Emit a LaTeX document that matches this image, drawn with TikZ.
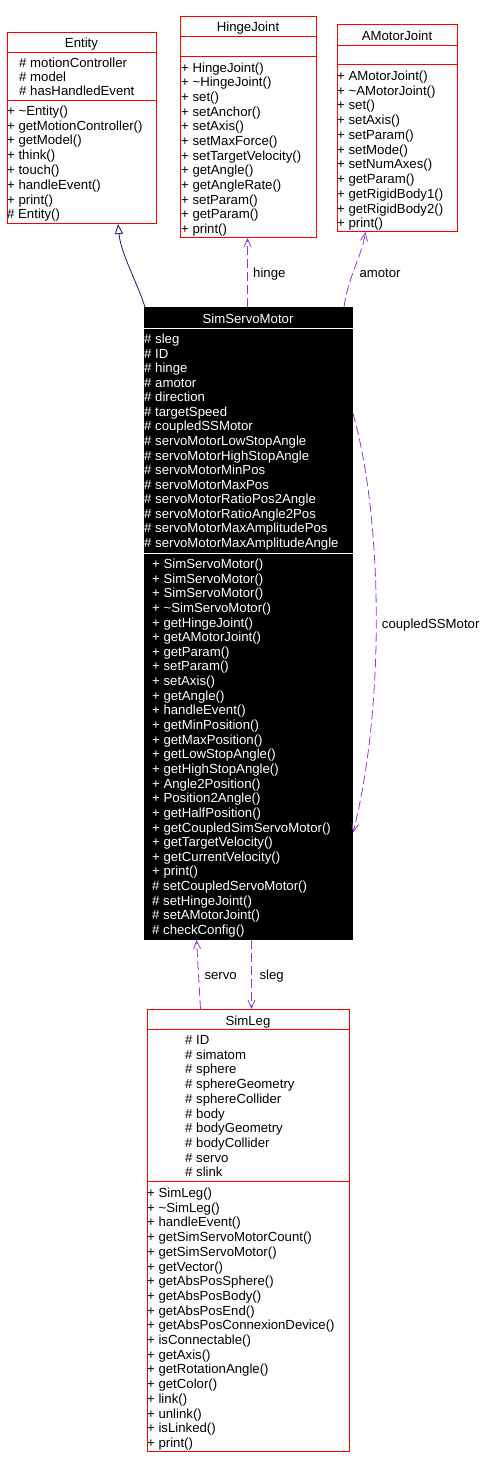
\documentclass[tikz,border=0pt]{standalone}
\usepackage{fontspec}
\setmainfont{Liberation Sans}
\usetikzlibrary{arrows.meta}
\definecolor{boxred}{HTML}{FF0000}
\definecolor{usecol}{HTML}{9A32CD}
\definecolor{inhcol}{HTML}{191970}
\begin{document}
\begin{tikzpicture}[x=1pt,y=-1pt,
  txt/.style={inner sep=0pt, anchor=base west, font=\fontsize{13.2}{15}\selectfont},
  ttl/.style={inner sep=0pt, anchor=base, font=\fontsize{13.2}{15}\selectfont},
  cls/.style={draw=boxred, line width=1pt, fill=white, anchor=north west, inner sep=0pt},
  sep/.style={draw=boxred, line width=1pt},
  usage/.style={draw=usecol, line width=0.8pt, dash pattern=on 9pt off 4pt, -{Straight Barb[length=8pt,width=7pt,line width=0.8pt]}},
  inherit/.style={draw=inhcol, line width=0.8pt, -{Triangle[open,length=10pt,width=8pt,line width=0.8pt]}},
  lbl/.style={inner sep=0pt, anchor=base west, font=\fontsize{13.2}{15}\selectfont}
]
\fill[white] (0,0) rectangle (489,1468);
\useasboundingbox (0,0) rectangle (489,1468);

% ---------- Entity ----------
\node[cls, minimum width=149pt, minimum height=191pt] (entity) at (7,32) {};
\draw[sep] (entity.west |- 0,52) -- (entity.east |- 0,52);
\draw[sep] (entity.west |- 0,100) -- (entity.east |- 0,100);
\node[ttl] (entity-t) at (81.5,47.2) {Entity};
\foreach \t [count=\i from 0] in {\# motionController,\# model,\# hasHandledEvent}
  \node[txt] (entity-a\i) at (19,{67.2+\i*14.3}) {\t};
\foreach \t [count=\i from 0] in {+ \textasciitilde Entity(),+ getMotionController(),+ getModel(),+ think(),+ touch(),+ handleEvent(),+ print(),\# Entity()}
  \node[txt] (entity-m\i) at (7,{115.2+\i*14.8}) {\t};

% ---------- HingeJoint ----------
\node[cls, minimum width=136pt, minimum height=221pt] (hinge) at (180,16) {};
\draw[sep] (hinge.west |- 0,36) -- (hinge.east |- 0,36);
\draw[sep] (hinge.west |- 0,56) -- (hinge.east |- 0,56);
\node[ttl] (hinge-t) at (248,31.8) {HingeJoint};
\foreach \t [count=\i from 0] in {+ HingeJoint(),+ \textasciitilde HingeJoint(),+ set(),+ setAnchor(),+ setAxis(),+ setMaxForce(),+ setTargetVelocity(),+ getAngle(),+ getAngleRate(),+ setParam(),+ getParam(),+ print()}
  \node[txt] (hinge-m\i) at (181,{72.2+\i*14.66}) {\t};

% ---------- AMotorJoint ----------
\node[cls, minimum width=120pt, minimum height=207pt] (amotor) at (337,24) {};
\draw[sep] (amotor.west |- 0,45) -- (amotor.east |- 0,45);
\draw[sep] (amotor.west |- 0,64) -- (amotor.east |- 0,64);
\node[ttl] (amotor-t) at (397,40.2) {AMotorJoint};
\foreach \t [count=\i from 0] in {+ AMotorJoint(),+ \textasciitilde AMotorJoint(),+ set(),+ setAxis(),+ setParam(),+ setMode(),+ setNumAxes(),+ getParam(),+ getRigidBody1(),+ getRigidBody2(),+ print()}
  \node[txt] (amotor-m\i) at (337,{80.5+\i*14.73}) {\t};

% ---------- SimServoMotor ----------
\node[cls, draw=black, fill=black, minimum width=208pt, minimum height=632pt] (ssm) at (144,307) {};
\draw[white, line width=1pt] (ssm.west |- 0,328) -- (ssm.east |- 0,328);
\draw[white, line width=1pt] (ssm.west |- 0,553) -- (ssm.east |- 0,553);
\node[ttl, text=white] (ssm-t) at (248,323.8) {SimServoMotor};
\foreach \t [count=\i from 0] in {\# sleg,\# ID,\# hinge,\# amotor,\# direction,\# targetSpeed,\# coupledSSMotor,\# servoMotorLowStopAngle,\# servoMotorHighStopAngle,\# servoMotorMinPos,\# servoMotorMaxPos,\# servoMotorRatioPos2Angle,\# servoMotorRatioAngle2Pos,\# servoMotorMaxAmplitudePos,\# servoMotorMaxAmplitudeAngle}
  \node[txt, text=white] (ssm-a\i) at (144,{343.5+\i*14.57}) {\t};
\foreach \t [count=\i from 0] in {+ SimServoMotor(),+ SimServoMotor(),+ SimServoMotor(),+ \textasciitilde SimServoMotor(),+ getHingeJoint(),+ getAMotorJoint(),+ getParam(),+ setParam(),+ setAxis(),+ getAngle(),+ handleEvent(),+ getMinPosition(),+ getMaxPosition(),+ getLowStopAngle(),+ getHighStopAngle(),+ Angle2Position(),+ Position2Angle(),+ getHalfPosition(),+ getCoupledSimServoMotor(),+ getTargetVelocity(),+ getCurrentVelocity(),+ print(),\# setCoupledServoMotor(),\# setHingeJoint(),\# setAMotorJoint(),\# checkConfig()}
  \node[txt, text=white] (ssm-m\i) at (152,{568.5+\i*14.64}) {\t};

% ---------- SimLeg ----------
\node[cls, minimum width=202pt, minimum height=442pt] (simleg) at (147,1009) {};
\draw[sep] (simleg.west |- 0,1029) -- (simleg.east |- 0,1029);
\draw[sep] (simleg.west |- 0,1181) -- (simleg.east |- 0,1181);
\node[ttl] (simleg-t) at (248,1025.2) {SimLeg};
\foreach \t [count=\i from 0] in {\# ID,\# simatom,\# sphere,\# sphereGeometry,\# sphereCollider,\# body,\# bodyGeometry,\# bodyCollider,\# servo,\# slink}
  \node[txt] (simleg-a\i) at (185,{1044.5+\i*14.7}) {\t};
\foreach \t [count=\i from 0] in {+ SimLeg(),+ \textasciitilde SimLeg(),+ handleEvent(),+ getSimServoMotorCount(),+ getSimServoMotor(),+ getVector(),+ getAbsPosSphere(),+ getAbsPosBody(),+ getAbsPosEnd(),+ getAbsPosConnexionDevice(),+ isConnectable(),+ getAxis(),+ getRotationAngle(),+ getColor(),+ link(),+ unlink(),+ isLinked(),+ print()}
  \node[txt] (simleg-m\i) at (147,{1197.5+\i*14.7}) {\t};

% ---------- connectors ----------
\draw[inherit] ([xshift=1pt]ssm.north west) .. controls +(-8,-25) and +(3,30) .. ([xshift=36pt]entity.south);
\draw[usage] ([xshift=-1pt]ssm.north) -- ([xshift=-1pt]hinge.south);
\node[lbl] (lbl-hinge) at (253,277) {hinge};
\draw[usage] ([xshift=-9pt]ssm.north east) .. controls +(4,-30) and +(-4,25) .. ([xshift=-32pt]amotor.south);
\node[lbl] (lbl-amotor) at (359.3,277) {amotor};
\draw[usage] ([yshift=210pt]ssm.east) .. controls +(31,110) and +(31,-120) .. ([yshift=-209pt]ssm.east);
\node[lbl] (lbl-coupled) at (381.7,628.5) {coupledSSMotor};
\draw[usage] ([xshift=-48pt]simleg.north) -- ([xshift=-52pt]ssm.south);
\node[lbl] (lbl-servo) at (204.3,979.5) {servo};
\draw[usage] ([xshift=3pt]ssm.south) -- ([xshift=3pt]simleg.north);
\node[lbl] (lbl-sleg) at (259.3,979.5) {sleg};
\end{tikzpicture}
\end{document}
